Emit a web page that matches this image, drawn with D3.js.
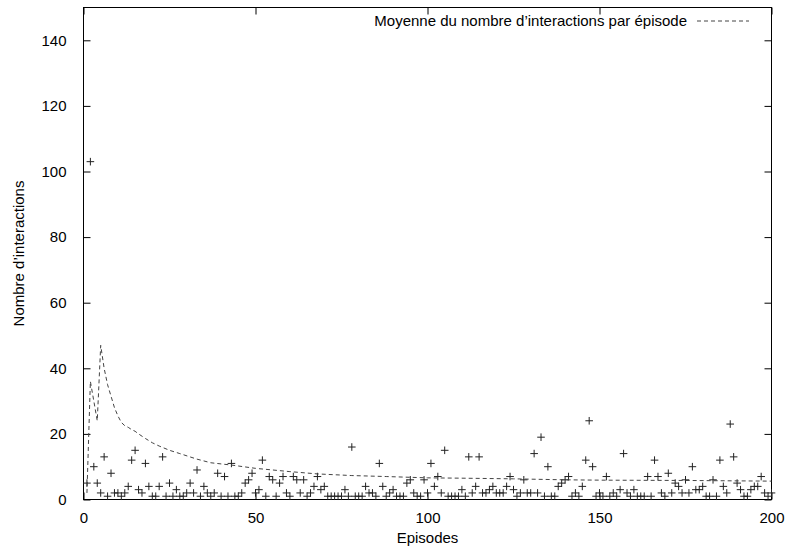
<!DOCTYPE html>
<html>
<head>
<meta charset="utf-8">
<script src="https://cdn.jsdelivr.net/npm/d3@7"></script>
<style>
  html, body { margin: 0; padding: 0; background: #fff; }
  svg { display: block; font-family: "Liberation Sans", Arial, Helvetica, sans-serif; }
</style>
</head>
<body>
<svg id="chart" width="787" height="548"></svg>
<script>
// Interactions per episode (episodes 1..200)
const interactions = [
  5, 103, 10, 5, 2, 13, 1, 8, 2, 2,
  1, 2, 4, 12, 15, 3, 2, 11, 4, 1,
  1, 4, 13, 1, 5, 1, 3, 1, 1, 2,
  5, 2, 9, 1, 4, 2, 1, 2, 8, 1,
  7, 1, 11, 1, 1, 2, 5, 6, 8, 2,
  3, 12, 1, 7, 6, 1, 5, 7, 2, 1,
  7, 6, 2, 6, 1, 2, 4, 7, 3, 4,
  1, 1, 1, 1, 1, 3, 1, 16, 1, 1,
  1, 4, 2, 2, 1, 11, 4, 1, 2, 3,
  1, 1, 1, 5, 6, 2, 1, 1, 6, 2,
  11, 4, 7, 2, 15, 1, 1, 1, 1, 3,
  1, 13, 2, 4, 13, 2, 2, 3, 4, 2,
  2, 2, 4, 7, 3, 1, 2, 6, 2, 2,
  14, 2, 19, 1, 10, 1, 1, 4, 5, 6,
  7, 1, 2, 1, 4, 12, 24, 10, 1, 2,
  1, 7, 1, 2, 1, 3, 14, 2, 1, 3,
  1, 1, 1, 7, 1, 12, 7, 2, 1, 8,
  2, 5, 4, 2, 6, 2, 10, 3, 3, 4,
  1, 1, 6, 1, 12, 4, 2, 23, 13, 5,
  3, 1, 1, 3, 4, 4, 7, 2, 1, 2
];
const episodes = interactions.map((_, i) => i + 1);

// Running average of interactions per episode
const meanEpisodes = [1, 2, 3, 4, 5, 6, 7, 8, 9, 10, 11, 12, 13, 14, 15, 16, 18, 20, 22, 25, 28, 33, 37, 43, 50, 60, 68, 78, 88, 100, 110, 125, 140, 150, 175, 200];
const meanValues   = [2, 36, 30, 24, 47, 40, 35, 31.5, 28, 25.5, 23.5, 22.5, 22, 21.3, 20.8, 20, 18.6, 17.3, 16.3, 15, 14, 12.3, 11.2, 10.5, 9.5, 8.5, 7.8, 7.3, 7.0, 6.6, 6.5, 6.3, 6.0, 5.9, 5.8, 5.6];

const xTicks = [0, 50, 100, 150, 200];
const yTicks = [0, 20, 40, 60, 80, 100, 120, 140];
const legendLabel = "Moyenne du nombre d\u2019interactions par épisode";
const xTitle = "Episodes";
const yTitle = "Nombre d\u2019interactions";

const svg = d3.select("#chart");
const m = { left: 83.5, right: 771.5, top: 7.5, bottom: 499.5 };
const fontSize = 15;
const tickLen = 7;

const x = d3.scaleLinear().domain([0, 200]).range([m.left, m.right]);
const y = d3.scaleLinear().domain([0, 150]).range([m.bottom, m.top]);

// Axes: ticks inside the frame, mirrored on top and right
const axisStyle = g => {
  g.select(".domain").remove();
  g.selectAll("line").attr("stroke", "#000").attr("stroke-width", 1);
  g.selectAll("text").attr("fill", "#000").style("font-size", fontSize + "px");
};

svg.append("g").attr("transform", `translate(0,${m.bottom})`)
  .call(d3.axisBottom(x).tickValues(xTicks).tickSizeInner(-tickLen).tickSizeOuter(0).tickPadding(13))
  .call(axisStyle);
svg.append("g").attr("transform", `translate(0,${m.top})`)
  .call(d3.axisTop(x).tickValues(xTicks).tickSizeInner(-tickLen).tickSizeOuter(0).tickFormat(""))
  .call(axisStyle);
svg.append("g").attr("transform", `translate(${m.left},0)`)
  .call(d3.axisLeft(y).tickValues(yTicks).tickSizeInner(-tickLen).tickSizeOuter(0).tickPadding(17))
  .call(axisStyle);
svg.append("g").attr("transform", `translate(${m.right},0)`)
  .call(d3.axisRight(y).tickValues(yTicks).tickSizeInner(-tickLen).tickSizeOuter(0).tickFormat(""))
  .call(axisStyle);

// Frame
svg.append("rect")
  .attr("x", m.left).attr("y", m.top)
  .attr("width", m.right - m.left).attr("height", m.bottom - m.top)
  .attr("fill", "none").attr("stroke", "#000").attr("stroke-width", 1);

// Points drawn as "+" markers
const r = 3.8;
const pts = svg.append("g").attr("stroke", "#222").attr("stroke-width", 1).attr("fill", "none");
pts.selectAll("path").data(episodes.map((e, i) => [e, interactions[i]]))
  .join("path")
  .attr("d", d => {
    const px = x(d[0]), py = y(d[1]);
    return `M${px - r},${py}H${px + r}M${px},${py - r}V${py + r}`;
  });

// Dashed running-average line
const line = d3.line().x(d => x(d[0])).y(d => y(d[1]));
svg.append("path")
  .datum(meanEpisodes.map((e, i) => [e, meanValues[i]]))
  .attr("d", line)
  .attr("fill", "none")
  .attr("stroke", "#444")
  .attr("stroke-width", 1)
  .attr("stroke-dasharray", "4,3");

// Legend (top right)
svg.append("text")
  .attr("x", 687).attr("y", 26)
  .attr("text-anchor", "end")
  .style("font-size", fontSize + "px")
  .text(legendLabel);
svg.append("line")
  .attr("x1", 697).attr("x2", 749).attr("y1", 21).attr("y2", 21)
  .attr("stroke", "#444").attr("stroke-width", 1).attr("stroke-dasharray", "4,3");

// Axis titles
svg.append("text")
  .attr("x", (m.left + m.right) / 2).attr("y", 543)
  .attr("text-anchor", "middle")
  .style("font-size", fontSize + "px")
  .text(xTitle);
svg.append("text")
  .attr("transform", `translate(24,${(m.top + m.bottom) / 2}) rotate(-90)`)
  .attr("text-anchor", "middle")
  .style("font-size", fontSize + "px")
  .text(yTitle);
</script>
</body>
</html>
